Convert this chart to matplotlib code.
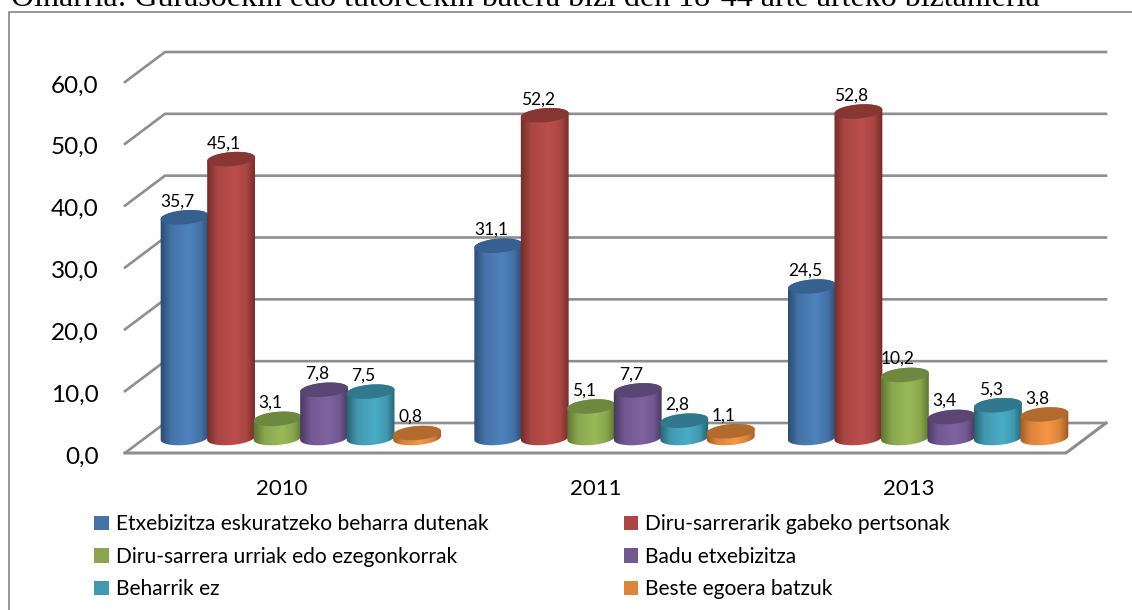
import matplotlib
matplotlib.use("Agg")
import matplotlib.pyplot as plt
import numpy as np
from matplotlib.colors import LinearSegmentedColormap
from matplotlib.lines import Line2D
from matplotlib.patches import Patch, Polygon, Rectangle
from matplotlib.transforms import IdentityTransform, ScaledTranslation

plt.rcParams["font.family"] = ["Lato", "DejaVu Sans"]

years = ["2010", "2011", "2013"]
series_names = [
    "Etxebizitza eskuratzeko beharra dutenak",
    "Diru-sarrerarik gabeko pertsonak",
    "Diru-sarrera urriak edo ezegonkorrak",
    "Badu etxebizitza",
    "Beharrik ez",
    "Beste egoera batzuk",
]
etxebizitza = [35.7, 31.1, 24.5]
diru_gabe = [45.1, 52.2, 52.8]
diru_urri = [3.1, 5.1, 10.2]
badu = [7.8, 7.7, 3.4]
beharrik_ez = [7.5, 2.8, 5.3]
beste = [0.8, 1.1, 3.8]
y_ticks = [0, 10, 20, 30, 40, 50, 60]

all_series = [etxebizitza, diru_gabe, diru_urri, badu, beharrik_ez, beste]

# (legend, dark edge, light centre, top)
palette = [
    ("#4572a7", "#2b4a70", "#4f82bd", "#35608f"),
    ("#aa4643", "#6f2c2a", "#bb4e4b", "#873634"),
    ("#89a54e", "#5c7030", "#9aba59", "#6f8840"),
    ("#71588f", "#47365c", "#7f63a1", "#5a4672"),
    ("#4198af", "#27606f", "#4bacc6", "#31788c"),
    ("#db843d", "#9c5a25", "#f79646", "#b36a2e"),
]

W, H = 1132, 610
grid_color = "#8e8e8e"
depth = np.array([40.0, 30.0])
bar_step = 46.5 / (941 / 3)
mid_shift = np.array([19.0, 15.0])
a, b = 24.0, 7.0
tilt = np.deg2rad(5)

fig = plt.figure(figsize=(W / 100, H / 100), dpi=100)
ax = fig.add_axes([125 / W, 1 - 453 / H, 941 / W, 371 / H])
ax.set_xlim(-0.5, 2.5)
ax.set_ylim(0, 60)
ax.patch.set_alpha(0)
for s in ax.spines.values():
    s.set_visible(False)
ax.set_xticks(range(len(years)), years)
ax.set_yticks(y_ticks, [f"{v:.1f}".replace(".", ",") for v in y_ticks])
ax.tick_params(axis="y", length=0, pad=19, labelsize=17.5, colors="black")
ax.tick_params(axis="x", length=0, pad=18.5, labelsize=16, colors="black")
# tick labels sit a little under the tick level in the original
for label in ax.get_yticklabels():
    label.set_transform(label.get_transform() + ScaledTranslation(0, -2 / 100, fig.dpi_scale_trans))


def ellipse_points(center, t):
    x = a * np.cos(t) * np.cos(tilt) - b * np.sin(t) * np.sin(tilt)
    y = a * np.cos(t) * np.sin(tilt) + b * np.sin(t) * np.cos(tilt)
    return np.column_stack([center[0] + x, center[1] + y])


# back wall, side wall and floor
right_end = ax.transData.transform((2.5, 0))
for v in y_ticks:
    p = ax.transData.transform((-0.5, v))
    back = p + depth
    xs = [p[0], back[0], right_end[0] + depth[0]]
    ys = [p[1], back[1], back[1]]
    ax.add_line(Line2D(xs, ys, transform=IdentityTransform(), color=grid_color,
                       lw=1.9, clip_on=False, zorder=1, solid_joinstyle="miter"))
p0 = ax.transData.transform((-0.5, 0))
ax.add_line(Line2D([p0[0], right_end[0], right_end[0] + depth[0]],
                   [p0[1], right_end[1], right_end[1] + depth[1]],
                   transform=IdentityTransform(), color=grid_color, lw=2.2,
                   clip_on=False, zorder=1, solid_joinstyle="miter"))

# cylinders
t_low = np.linspace(np.pi, 2 * np.pi, 40)
t_up = np.linspace(0, np.pi, 40)
z = 3
for g in range(len(years)):
    for i, values in enumerate(all_series):
        val = values[g]
        legend_c, dark, light, top_c = palette[i]
        xpos = g + (i - 2.5) * bar_step
        base = ax.transData.transform((xpos, 0)) + mid_shift
        top = ax.transData.transform((xpos, val)) + mid_shift

        outline = np.vstack([ellipse_points(base, t_low), ellipse_points(top, t_up)])
        side = Polygon(outline, closed=True, transform=IdentityTransform(),
                       facecolor="none", edgecolor="none")
        cmap = LinearSegmentedColormap.from_list(
            "c", [(0, dark), (0.22, legend_c), (0.58, light), (0.82, legend_c), (1, dark)])
        im = ax.imshow(np.linspace(0, 1, 64).reshape(1, -1), cmap=cmap, aspect="auto",
                       extent=(base[0] - a - 1, base[0] + a + 1, base[1] - b - 5, top[1] + b + 5),
                       transform=IdentityTransform(), zorder=z, interpolation="bilinear")
        im.set_clip_path(side)
        im.set_clip_box(fig.bbox)

        lid = Polygon(ellipse_points(top, np.linspace(0, 2 * np.pi, 80)), closed=True,
                      transform=IdentityTransform(), facecolor=top_c, edgecolor="none",
                      zorder=z + 0.5, clip_on=False)
        ax.add_patch(lid)
        z += 1

        ax.text(top[0] - 7, top[1] + 16, f"{val:.1f}".replace(".", ","),
                transform=IdentityTransform(), ha="center", va="center",
                fontsize=12.5, color="black", zorder=50)

# legend is filled column by column
order = [0, 2, 4, 1, 3, 5]
handles = [Patch(facecolor=palette[i][0], edgecolor="none") for i in order]
labels = [series_names[i] for i in order]
fig.legend(handles, labels, ncol=2, loc="upper left",
           bbox_to_anchor=(88 / W, 1 - 508 / H), frameon=False, fontsize=15.1,
           handlelength=0.7, handleheight=0.7, handletextpad=0.33,
           labelspacing=0.6, columnspacing=6.44, borderpad=0.3, borderaxespad=0)

# frame of the chart area
fig.add_artist(Rectangle((9 / W, -0.02), 1.1, 1.02 - 12 / H, transform=fig.transFigure,
                         facecolor="none", edgecolor="#858585", lw=1.2))

fig.text(11 / W, 1 - 6 / H,
         "Oinarria: Gurasoekin edo tutoreekin batera bizi den 18-44 arte arteko biztanleria",
         family="Liberation Serif", fontsize=23, ha="left", va="baseline", color="black")

fig.savefig("out.png", dpi=100)
plt.close()
